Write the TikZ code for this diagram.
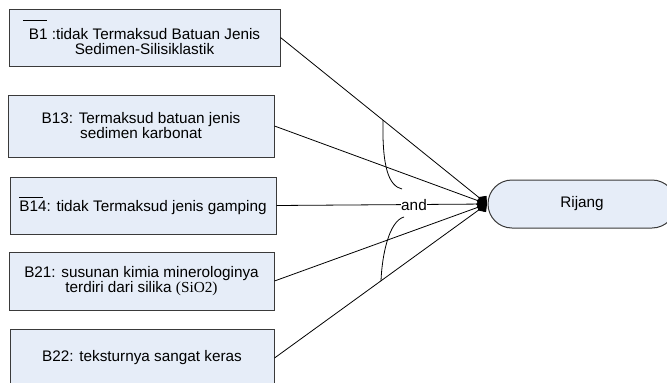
\documentclass[tikz,border=0pt]{standalone}
\usepackage{fontspec}
\setmainfont{Liberation Sans}
\newfontfamily\serifface{Liberation Serif}
\usetikzlibrary{arrows.meta,shapes.misc}
\definecolor{boxfill}{HTML}{E6EDF8}
\definecolor{boxline}{HTML}{3A3A3A}
% bar over a premise label: width, horizontal shift, height above baseline
\newcommand{\topbar}[3]{\leavevmode\rlap{\kern#2\raisebox{#3}{\rule{#1}{1.1pt}}}}
\begin{document}
\begin{tikzpicture}[x=1pt,y=-1pt,
  premise/.style={draw=boxline, fill=boxfill, line width=1pt, inner sep=0pt,
    align=center, font=\fontsize{15.3}{15}\selectfont},
  goal/.style={rounded rectangle, draw=boxline, fill=boxfill, line width=1pt,
    inner sep=0pt, font=\fontsize{15.3}{15}\selectfont},
  rule/.style={draw=black, line width=0.8pt, -{Diamond[length=11pt,width=12pt]}},
  joinarc/.style={draw=black, line width=0.8pt}]
\useasboundingbox (0,0) rectangle (667,383);

\node[premise, minimum width=271pt, minimum height=57pt] (b1) at (144.5,37.5)
  {\topbar{24pt}{-6pt}{19pt}B1 :tidak Termaksud Batuan Jenis\\Sedimen-Silisiklastik};
\node[premise, minimum width=266pt, minimum height=62pt] (b13) at (141,126)
  {B13: Termaksud batuan jenis\\sedimen karbonat};
\node[premise, minimum width=266pt, minimum height=57pt] (b14) at (143,205.5)
  {\topbar{24pt}{0pt}{13.5pt}B14: tidak Termaksud jenis gamping};
\node[premise, minimum width=265pt, minimum height=58pt] (b21) at (141.5,281)
  {B21: susunan kimia minerologinya\\terdiri dari silika {\serifface(SiO2)}};
\node[premise, minimum width=264pt, minimum height=58pt] (b22) at (142,358)
  {B22: teksturnya sangat keras};

\node[goal, minimum width=188pt, minimum height=48pt] (rijang) at (582,204) {Rijang};

\coordinate (join) at (487,204);

\draw[rule] (b1.east) -- (join);
\draw[rule] (b13.east) -- (join);
\draw[rule] (b14.east) -- (join);
\draw[rule] (b21.east) -- (join);
\draw[rule] (b22.east) -- (join);

\node[fill=white, inner sep=0.5pt, font=\fontsize{15.3}{15}\selectfont] (andlabel) at (414,205) {and};

\draw[joinarc] (383,120) .. controls (382,168) and (389,186) .. (402,189);
\draw[joinarc] (404,217) .. controls (389,221) and (382,255) .. (381,281);
\end{tikzpicture}
\end{document}
